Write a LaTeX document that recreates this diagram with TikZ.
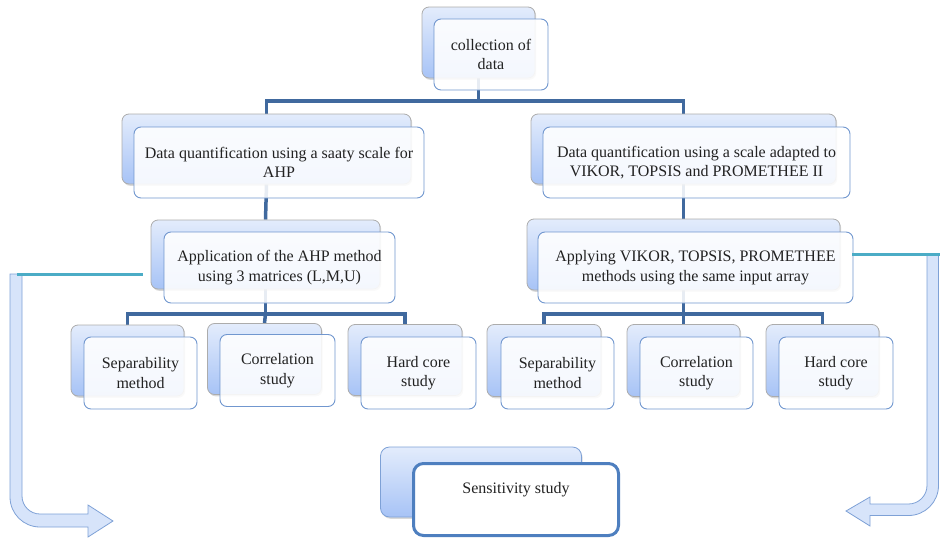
\documentclass[tikz,border=0pt]{standalone}
\usepackage{fontspec}
\setmainfont{Liberation Serif}
\usetikzlibrary{shadows}
\definecolor{bbtop}{HTML}{E3ECFC}
\definecolor{bbbot}{HTML}{A7C3F6}
\definecolor{fbord}{HTML}{7197CF}
\definecolor{conncol}{HTML}{40699E}
\definecolor{tealcol}{HTML}{4BACC6}
\definecolor{sensbord}{HTML}{4E7FBF}
\definecolor{arrfill}{HTML}{D7E4FA}
\definecolor{arrbord}{HTML}{7EA1D6}
\definecolor{txtcol}{HTML}{222222}
\pgfdeclarelayer{bg}
\pgfsetlayers{bg,main}
\newcommand{\boxfont}{\fontsize{16}{19.5}\selectfont}
\tikzset{
  backbox/.style={rounded corners=7pt, draw=gray!65, line width=0.8pt,
    top color=bbtop, bottom color=bbbot, inner sep=0pt,
    drop shadow={opacity=0.3, shadow xshift=1.2pt, shadow yshift=-1.8pt}},
  frontbox/.style={rounded corners=7pt, draw=fbord, line width=0.9pt,
    fill=white, fill opacity=0.88, text opacity=1, align=center,
    inner sep=2pt, font=\boxfont, text=txtcol},
  conn/.style={draw=conncol, line width=3.5pt},
  tealline/.style={draw=tealcol, line width=3pt},
  blockarrow/.style={draw=arrbord, line width=0.8pt, fill=arrfill},
  txt/.style={font=\boxfont, align=center, inner sep=0pt, text=txtcol}
}
\begin{document}
\begin{tikzpicture}[x=1pt,y=-1pt]
\useasboundingbox (0,0) rectangle (940,538);

% level 1
\node[backbox, minimum width=113pt, minimum height=71pt] (b1) at (478.5,42.5) {};
\node[frontbox, minimum width=114pt, minimum height=71pt] (f1) at (491,54.5) {collection of\\data};

% level 2
\node[backbox, minimum width=289pt, minimum height=70pt] (b2l) at (266.5,149) {};
\node[frontbox, minimum width=290pt, minimum height=71pt] (f2l) at (279,162.5) {Data quantification using a saaty scale for\\AHP};
\node[backbox, minimum width=305pt, minimum height=70pt] (b2r) at (683.5,149) {};
\node[frontbox, minimum width=307pt, minimum height=71pt] (f2r) at (696.5,162.5) {Data quantification using a scale adapted to\\VIKOR, TOPSIS and PROMETHEE II};

% level 3
\node[backbox, minimum width=229pt, minimum height=69pt] (b3l) at (265.5,254.5) {};
\node[frontbox, minimum width=231pt, minimum height=71pt] (f3l) at (279.5,267.5) {Application of the AHP method\\using 3 matrices (L,M,U)};
\node[backbox, minimum width=313pt, minimum height=71pt] (b3r) at (683.5,254.5) {};
\node[frontbox, minimum width=315pt, minimum height=71pt] (f3r) at (695.5,267.5) {Applying VIKOR, TOPSIS, PROMETHEE\\methods using the same input array};

% level 4 left
\node[backbox, minimum width=113pt, minimum height=71pt] (b4a) at (127.5,360.5) {};
\node[frontbox, minimum width=113pt, minimum height=72pt] (f4a) at (140.5,373) {Separability\\method};
\node[backbox, minimum width=114pt, minimum height=71pt] (b4b) at (264.5,359) {};
\node[frontbox, minimum width=115pt, minimum height=72pt] (f4b) at (277.5,370.5) {Correlation\\study};
\node[backbox, minimum width=114pt, minimum height=71pt] (b4c) at (405,360) {};
\node[frontbox, minimum width=115pt, minimum height=72pt] (f4c) at (418.5,373) {Hard core\\study};

% level 4 right
\node[backbox, minimum width=114pt, minimum height=72pt] (b4d) at (544,360.5) {};
\node[frontbox, minimum width=113pt, minimum height=72pt] (f4d) at (557.5,373) {Separability\\method};
\node[backbox, minimum width=113pt, minimum height=72pt] (b4e) at (683.5,360.5) {};
\node[frontbox, minimum width=113pt, minimum height=72pt] (f4e) at (696.5,373) {Correlation\\study};
\node[backbox, minimum width=113pt, minimum height=72pt] (b4f) at (822.5,360.5) {};
\node[frontbox, minimum width=114pt, minimum height=72pt] (f4f) at (836,373) {Hard core\\study};

% sensitivity
\node[rounded corners=9pt, draw=arrbord, line width=0.8pt, top color=bbtop, bottom color=bbbot,
  drop shadow={opacity=0.3, shadow xshift=1.2pt, shadow yshift=-1.8pt},
  minimum width=201pt, minimum height=70pt] (b5) at (481,482) {};
\node[rounded corners=10pt, draw=sensbord, line width=3pt, fill=white,
  minimum width=205pt, minimum height=72pt] (f5) at (516,499.5) {};
\node[txt] (t5) at (516,490) {Sensitivity study};

\begin{pgfonlayer}{bg}
  % connectors
  \coordinate (j1) at (0,101);
  \draw[conn] (b1.south) -- (b1.south |- j1);
  \draw[conn] (b2l.north) |- (b1.south |- j1) -| (b2r.north);
  \draw[conn] (b2l.south) -- (b3l.north);
  \draw[conn] (b2r.south) -- (b3r.north);
  \coordinate (j2) at (0,314);
  \draw[conn] (b3l.south) -- (b3l.south |- j2);
  \draw[conn] (b4a.north) |- (b4b.north |- j2) -| (b4c.north);
  \draw[conn] (b3l.south |- j2) -- (b4b.north);
  \draw[conn] (b3r.south) -- (b3r.south |- j2);
  \draw[conn] (b4d.north) |- (b4e.north |- j2) -| (b4f.north);
  \draw[conn] (b3r.south |- j2) -- (b4e.north);

  % block arrows
  \draw[blockarrow] (10,274) -- (10,497) .. controls (10,513.6) and (23.4,527) .. (40,527)
    -- (88,527) -- (88,537) -- (113,521) -- (88,505) -- (88,514) -- (40,514)
    .. controls (30.06,514) and (22,505.94) .. (22,496) -- (22,274) -- cycle;
  \draw[blockarrow] (927,254) -- (938.5,254) -- (938.5,485.5) .. controls (938.5,502.1) and (925.1,515.5) .. (908.5,515.5)
    -- (870,515.5) -- (870,526) -- (846,511) -- (870,497) -- (870,504) -- (908.5,504)
    .. controls (918.7,504) and (927,495.7) .. (927,485.5) -- cycle;
\end{pgfonlayer}

% teal lines
\coordinate (tl1) at (17,274);
\coordinate (tl2) at (143,274);
\draw[tealline] (tl1) -- (tl2);
\coordinate (tr1) at (852,254);
\coordinate (tr2) at (940,254);
\draw[tealline] (tr1) -- (tr2);
\end{tikzpicture}
\end{document}
